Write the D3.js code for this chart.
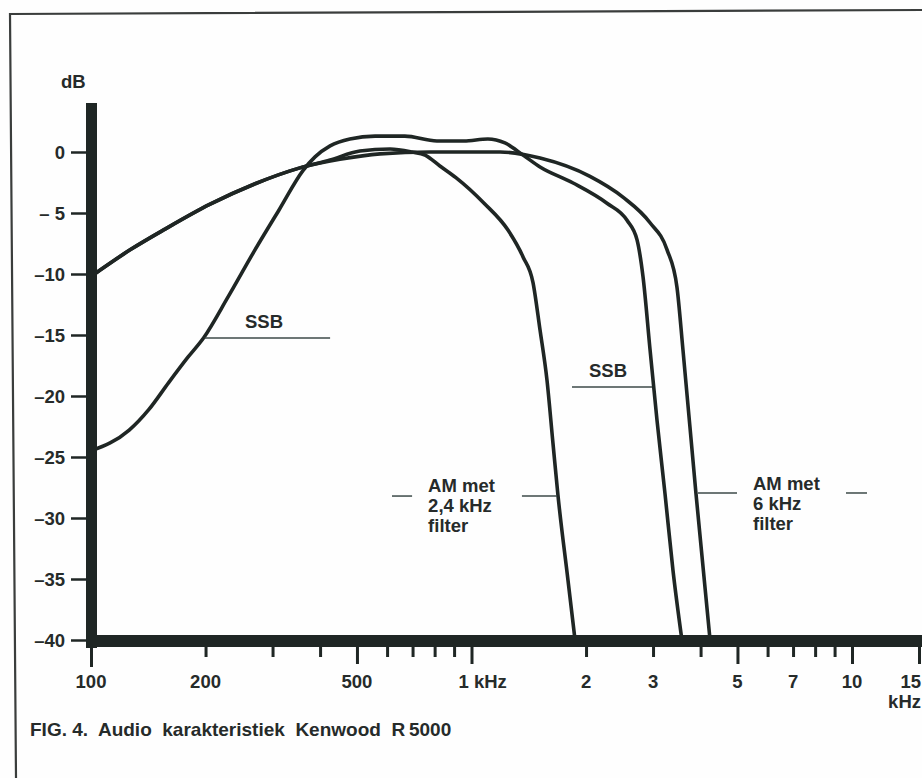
<!DOCTYPE html>
<html>
<head>
<meta charset="utf-8">
<script src="https://cdn.jsdelivr.net/npm/d3@7"></script>
<style>
  body { margin: 0; background: #fefefe; }
  svg { display: block; }
  .lbl { font-family: "Liberation Sans", Arial, sans-serif; font-weight: bold; font-size: 18.5px; fill: #262b2a; }
  .cap { font-size: 19px; }
</style>
</head>
<body>
<div id="chart"></div>
<script>
// frequentie-as (Hz) en dB-as
var freqTicks = [100, 200, 300, 400, 500, 600, 700, 800, 900, 1000, 2000, 3000, 4000, 5000, 6000, 7000, 8000, 9000, 10000, 15000];
var freqMajor = [100, 500, 1000, 5000, 10000, 15000];
var freqLabelHz = [100, 200, 500, 1000, 2000, 3000, 5000, 7000, 10000, 15000];
var freqLabels = ['100', '200', '500', '1 kHz', '2', '3', '5', '7', '10', '15'];
var dbTicks = [0, -5, -10, -15, -20, -25, -30, -35, -40];
var dbLabels = ['0', '\u2013 5', '\u201310', '\u201315', '\u201320', '\u201325', '\u201330', '\u201335', '\u201340'];

// AM met 6 kHz filter
var am6Hz = [100, 127, 157, 205, 270, 354, 451, 575, 778, 1189, 1514, 2048, 2500, 2946, 3264, 3468, 3595, 3890, 4236];
var am6Db = [-10.2, -8.0, -6.3, -4.3, -2.6, -1.3, -0.6, -0.15, 0, 0, -0.5, -2.0, -3.7, -5.8, -8.0, -11.1, -16.2, -28, -40];

// SSB
var ssbHz = [100, 126, 142, 160, 180, 198, 229, 270, 312, 361, 388, 425, 479, 558, 668, 811, 955, 1104, 1224, 1366, 1514, 1849, 2270, 2563, 2723, 2824, 2946, 3073, 3225, 3385, 3573];
var ssbDb = [-24.5, -22.8, -21.1, -18.9, -16.8, -15.2, -11.9, -8.0, -4.75, -1.5, -0.4, 0.5, 1.07, 1.3, 1.3, 0.9, 0.9, 1.07, 0.74, -0.25, -1.23, -2.54, -4.2, -5.6, -7.2, -10.25, -16.2, -22, -28, -34.3, -40];

// AM met 2,4 kHz filter
var am24Hz = [100, 127, 157, 205, 270, 354, 425, 509, 611, 698, 755, 826, 910, 1079, 1247, 1366, 1451, 1514, 1579, 1637, 1687, 1793, 1871];
var am24Db = [-10.2, -8.0, -6.3, -4.3, -2.6, -1.3, -0.65, 0.08, 0.25, 0, -0.25, -1.15, -2.1, -4.2, -6.4, -8.6, -10.7, -14.6, -18.7, -23.85, -28.1, -35.1, -40];

// aanwijsstreepjes: [van Hz, tot Hz, dB]
var leaders = [[199, 425, -15.25], [1837, 2981, -19.26], [618, 698, -28.2], [1357, 1678, -28.2], [3938, 4986, -27.95], [9643, 10950, -27.95]];
// teksten: Hz, dB (eerste regel), anker, regels
var notes = [
  { f: 285, db: -14.4, anchor: 'middle', lines: ['SSB'] },
  { f: 2284, db: -18.44, anchor: 'middle', lines: ['SSB'] },
  { f: 769, db: -27.87, anchor: 'start', lines: ['AM met', '2,4 kHz', 'filter'] },
  { f: 5493, db: -27.7, anchor: 'start', lines: ['AM met', '6 kHz', 'filter'] }
];

var caption = 'FIG. 4.  Audio  karakteristiek  Kenwood  R\u20095000';

(function() {
  var width = 922;
  var height = 778;
  var ink = '#1f2624';

  var xScale = d3.scaleLog().domain([100, 15000]).range([91, 919]);
  var yScale = d3.scaleLinear().domain([-40, 0]).range([640, 152]);

  var svg = d3.select('#chart').append('svg')
    .attr('width', width).attr('height', height)
    .style('background', '#fefefe');

  // kader van de figuur
  svg.append('path').attr('d', 'M922,10 L10,14 L16,778')
    .attr('fill', 'none').attr('stroke', '#3a3d3c').attr('stroke-width', 2.2);

  var line = d3.line()
    .x(function(d) { return xScale(d[0]); })
    .y(function(d) { return yScale(d[1]); })
    .curve(d3.curveMonotoneX);

  var series = [[am6Hz, am6Db], [ssbHz, ssbDb], [am24Hz, am24Db]];
  svg.append('g').selectAll('path').data(series).enter().append('path')
    .attr('d', function(s) { return line(d3.zip(s[0], s[1])); })
    .attr('fill', 'none').attr('stroke', ink)
    .attr('stroke-width', 3.6).attr('stroke-linejoin', 'round');

  // y-as
  var yAxis = svg.append('g').attr('transform', 'translate(86,0)')
    .call(d3.axisLeft(yScale).tickValues(dbTicks)
      .tickFormat(function(d, i) { return dbLabels[i]; })
      .tickSize(15).tickPadding(6));
  yAxis.select('.domain').remove();
  yAxis.selectAll('line').attr('stroke', ink).attr('stroke-width', 2.5);
  yAxis.selectAll('text').attr('class', 'lbl').attr('fill', null).attr('dy', '0.36em');

  // x-as
  var xAxis = svg.append('g').attr('transform', 'translate(0,647)')
    .call(d3.axisBottom(xScale).tickValues(freqTicks).tickFormat('').tickSize(10));
  xAxis.select('.domain').remove();
  xAxis.selectAll('line').attr('stroke', ink).attr('stroke-width', 3)
    .attr('y2', function(d) { return freqMajor.indexOf(d) >= 0 ? 17 : 10; });
  xAxis.selectAll('line').filter(function(d) { return d === 100; }).attr('y2', 20);

  // dikke aslijnen
  svg.append('rect').attr('x', 86).attr('y', 103).attr('width', 11).attr('height', 545).attr('fill', ink);
  svg.append('rect').attr('x', 86).attr('y', 635).attr('width', width - 86).attr('height', 12).attr('fill', ink);

  svg.append('g').selectAll('text').data(freqLabelHz).enter().append('text')
    .attr('class', 'lbl')
    .attr('x', function(d) {
      if (d === 1000) return xScale(d) - 13;
      if (d === 15000) return width - 1;
      return xScale(d);
    })
    .attr('y', 688)
    .attr('text-anchor', function(d) {
      if (d === 1000) return 'start';
      if (d === 15000) return 'end';
      return 'middle';
    })
    .text(function(d, i) { return freqLabels[i]; });
  svg.append('text').attr('class', 'lbl').attr('x', width - 1).attr('y', 708)
    .attr('text-anchor', 'end').text('kHz');
  svg.append('text').attr('class', 'lbl').attr('x', 61).attr('y', 88).text('dB');

  // aanwijsstreepjes en teksten
  svg.append('g').selectAll('line').data(leaders).enter().append('line')
    .attr('x1', function(d) { return xScale(d[0]); })
    .attr('x2', function(d) { return xScale(d[1]); })
    .attr('y1', function(d) { return yScale(d[2]); })
    .attr('y2', function(d) { return yScale(d[2]); })
    .attr('stroke', '#3c4a48').attr('stroke-width', 1.5);

  var noteG = svg.append('g').selectAll('text').data(notes).enter().append('text')
    .attr('class', 'lbl')
    .attr('text-anchor', function(d) { return d.anchor; })
    .attr('x', function(d) { return xScale(d.f); })
    .attr('y', function(d) { return yScale(d.db); });
  noteG.selectAll('tspan').data(function(d) { return d.lines.map(function(t) { return { t: t, x: xScale(d.f) }; }); })
    .enter().append('tspan')
    .attr('x', function(d) { return d.x; })
    .attr('dy', function(d, i) { return i === 0 ? 0 : 20; })
    .text(function(d) { return d.t; });

  svg.append('text').attr('class', 'lbl cap').attr('x', 30).attr('y', 736)
    .style('white-space', 'pre').text(caption);
})();
</script>
</body>
</html>
